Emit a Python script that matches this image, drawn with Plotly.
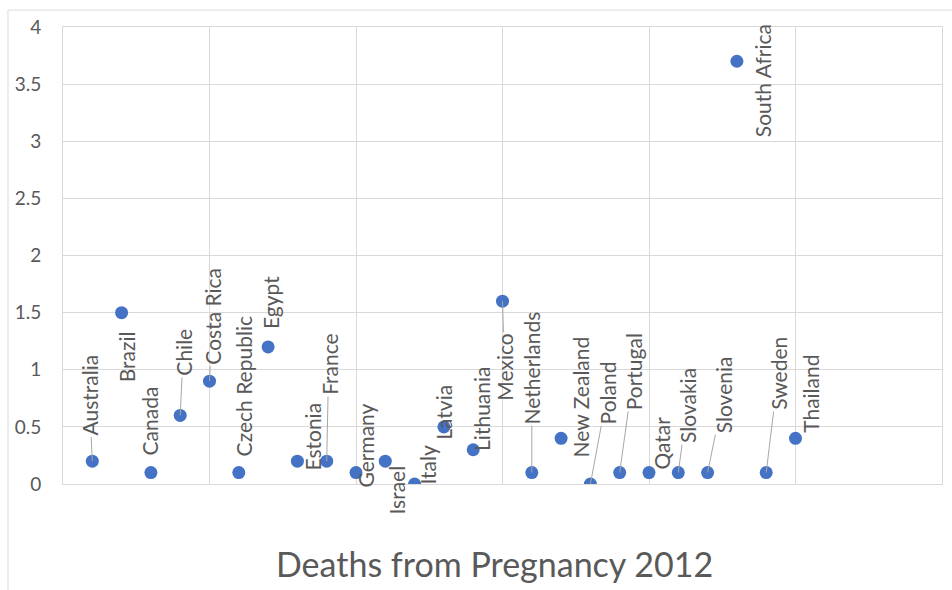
import plotly.graph_objects as go

# Maternal deaths data, 2012
countries = ["Australia", "Brazil", "Canada", "Chile", "Costa Rica", "Czech Republic",
             "Egypt", "Estonia", "France", "Germany", "Israel", "Italy", "Latvia",
             "Lithuania", "Mexico", "Netherlands", "New Zealand", "Poland", "Portugal",
             "Qatar", "Slovakia", "Slovenia", "South Africa", "Sweden", "Thailand"]
index = list(range(1, len(countries) + 1))
deaths = [0.2, 1.5, 0.1, 0.6, 0.9, 0.1, 1.2, 0.2, 0.2, 0.1, 0.2, 0.0, 0.5,
          0.3, 1.6, 0.1, 0.4, 0.0, 0.1, 0.1, 0.1, 0.1, 3.7, 0.1, 0.4]
y_ticks = [0, 0.5, 1, 1.5, 2, 2.5, 3, 3.5, 4]

# label placement (pixel offset of label centre from its point) and leader flag
label_dx = [-3, 5, -1, 3, 3, 5, 3, 15, 2, 10, 11, 12, 0, 9, 2, 0, 19, 17, 14, 13, 9, 16, 25, 12, 15]
label_dy = [-66, 44, -52, -63, -65, -86, -44, -25, -97, -27, 29, -19, -15, -41, 66, -105,
            -41, -91, -101, -29, -67, -78, 19, -99, -44]
leader = [1, 0, 0, 1, 1, 0, 0, 0, 1, 0, 0, 0, 0, 0, 1, 1, 0, 1, 1, 0, 1, 1, 0, 1, 0]

GRID = "#d9d9d9"
TEXT = "#595959"
FONT = "Lato, Carlito, Calibri, sans-serif"

fig = go.Figure()
fig.add_trace(go.Scatter(
    x=index, y=deaths, mode="markers",
    marker=dict(size=13, color="#4472C4"),
    hoverinfo="text", text=countries, showlegend=False,
))

annotations = []
for name, xi, yi, dx, dy, ld in zip(countries, index, deaths, label_dx, label_dy, leader):
    annotations.append(dict(
        x=xi, y=yi, xref="x", yref="y", text=name, textangle=-90,
        showarrow=True, ax=dx, ay=dy, arrowhead=0, arrowwidth=1,
        arrowcolor="#a6a6a6" if ld else "rgba(0,0,0,0)",
        font=dict(family=FONT, size=21, color=TEXT),
    ))

annotations.append(dict(
    x=0.491, y=-0.175, xref="paper", yref="paper", text="Deaths from Pregnancy 2012",
    showarrow=False, font=dict(family=FONT, size=34, color=TEXT),
    xanchor="center", yanchor="middle",
))

fig.update_layout(
    width=952, height=590, autosize=False,
    margin=dict(l=63, r=10, t=27, b=106),
    paper_bgcolor="white", plot_bgcolor="white",
    annotations=annotations,
    xaxis=dict(range=[0, 30], tickvals=[0, 5, 10, 15, 20, 25, 30], showticklabels=False,
               showgrid=True, gridcolor=GRID, gridwidth=1, zeroline=False,
               showline=True, linecolor=GRID, mirror=True, ticks=""),
    yaxis=dict(range=[0, 4], tickvals=y_ticks, ticktext=[f"{v:g}" for v in y_ticks],
               showgrid=True, gridcolor=GRID, gridwidth=1, zeroline=False,
               showline=True, linecolor=GRID, mirror=True, ticks="",
               ticklabelstandoff=17,
               tickfont=dict(family=FONT, size=19, color=TEXT)),
    shapes=[dict(type="rect", xref="paper", yref="paper",
                 x0=-0.0626, x1=1.2, y0=-0.5, y1=1.037,
                 line=dict(color=GRID, width=1), fillcolor="rgba(0,0,0,0)", layer="below")],
)

fig.write_html("out.html")
